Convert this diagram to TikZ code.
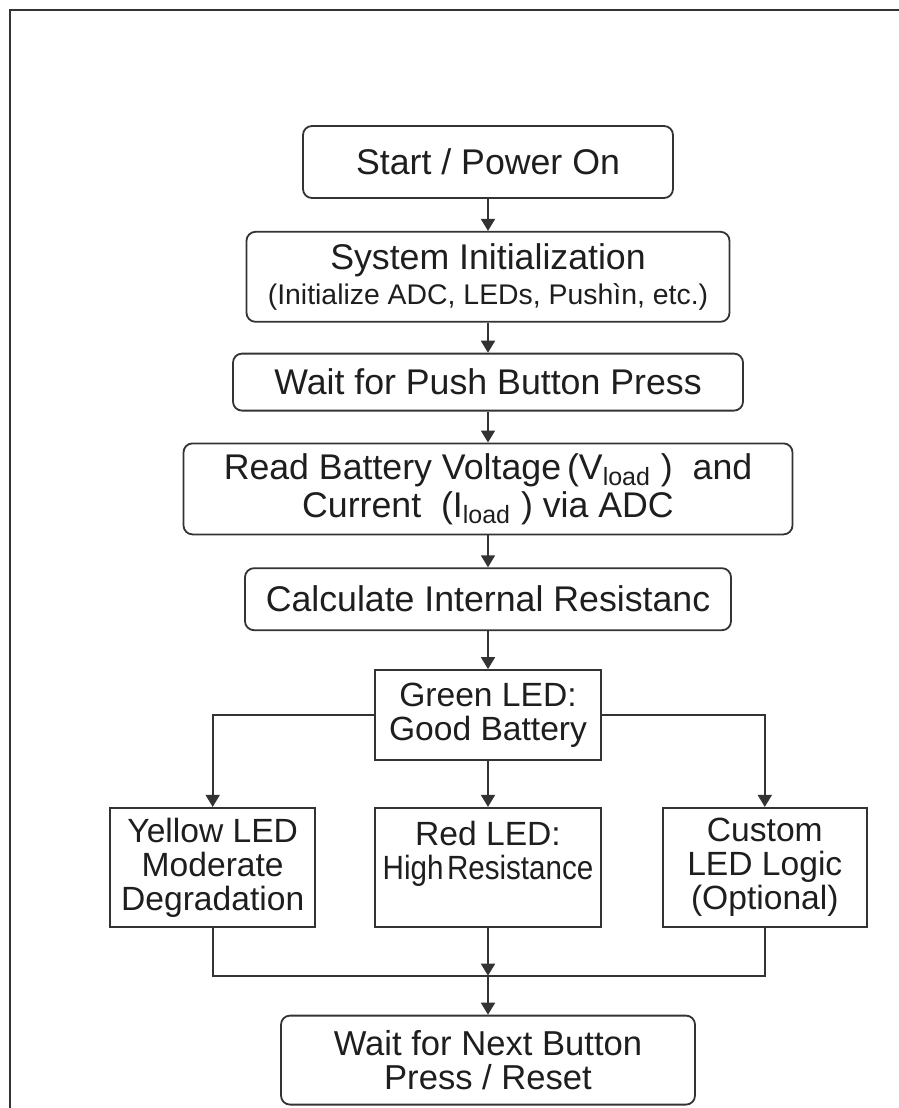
\documentclass[tikz,border=0pt]{standalone}
\usepackage{fontspec}
\setmainfont{Liberation Sans}
\usepackage{graphicx}
\usetikzlibrary{arrows.meta,positioning}
\definecolor{linegray}{HTML}{333333}
\definecolor{textgray}{HTML}{1E1E1E}

\begin{document}
\begin{tikzpicture}[every node/.style={draw=linegray, line width=.9pt, align=center, inner sep=0pt, text=textgray},
  flow/.style={rounded corners=4.5pt, font=\fontsize{17.85pt}{17.5pt}\selectfont},
  led/.style={minimum height=59.5pt, font=\fontsize{16.8pt}{17pt}\selectfont},
  arrow/.style={draw=linegray, line width=.9pt, -{Triangle[width=7pt,length=6pt]}}]
  \useasboundingbox (0,0) rectangle (449.5pt,-554pt);
  \draw [linegray, line width=1.1pt] (5pt,-554pt) -- (5pt,-5pt) -- (449.5pt,-5pt);
  \node [flow, minimum width=185pt, minimum height=36pt] (start) at (244pt,-81pt) {Start / Power On};
  \node [flow, minimum width=241.5pt, minimum height=45pt, below=16pt of start] (init) {System Initialization\\ {\fontsize{14.2pt}{14pt}\selectfont (Initialize ADC, LEDs, Pushìn, etc.)}};
  \node [flow, minimum width=255pt, minimum height=28.5pt, below=15pt of init] (wait) {Wait for Push Button Press};
  \node [flow, minimum width=304.5pt, minimum height=45.5pt, below=15.5pt of wait] (read) {Read Battery Voltage\,(V\textsubscript{load} )~ and\\[1.5pt] Current~~(I\textsubscript{load} ) via ADC};
  \node [flow, minimum width=243pt, minimum height=31pt, below=16pt of read] (calc) {Calculate Internal Resistanc};
  \node [led, minimum width=113pt, minimum height=45pt, below=19pt of calc] (green) {Green LED:\\Good Battery};
  \node [led, minimum width=113pt, below=23pt of green] (red) {Red LED:\\\scalebox{0.88}[1]{High\hspace{2pt}Resistance}\\\mbox{}};
  \node [led, minimum width=102.5pt, left=29pt of red] (yellow) {Yellow LED\\Moderate\\Degradation};
  \node [led, minimum width=102pt, right=30pt of red] (custom) {Custom\\LED Logic\\(Optional)};
  \coordinate [below=24pt of red] (join);
  \node [flow, font=\fontsize{17.3pt}{16.8pt}\selectfont, minimum width=207pt, minimum height=44.5pt, below=19.5pt of join] (final) {Wait for Next Button\\Press / Reset};
  \draw [arrow] (start) -- (init);
  \draw [arrow] (init) -- (wait);
  \draw [arrow] (wait) -- (read);
  \draw [arrow] (read) -- (calc);
  \draw [arrow] (calc) -- (green);
  \draw [arrow] (green) -- (red);
  \draw [arrow] (green.west) -| (yellow.north);
  \draw [arrow] (green.east) -| (custom.north);
  \draw [draw=linegray, line width=.9pt] (yellow.south) |- (join) -| (custom.south);
  \draw [arrow] (red) -- (join);
  \draw [arrow] (join) -- (final);
\end{tikzpicture}
\end{document}
